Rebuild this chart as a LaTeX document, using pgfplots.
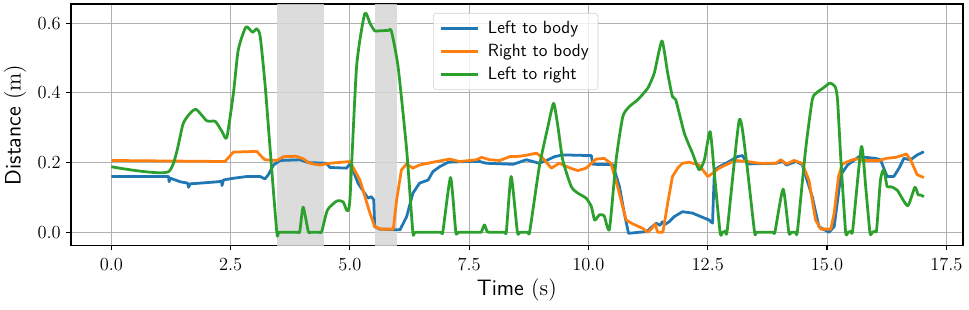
\documentclass[border=0pt]{standalone}
\usepackage{fontspec}
\usepackage{pgfplots}
\pgfplotsset{compat=1.18}
\definecolor{tabblue}{HTML}{1F77B4}
\definecolor{taborange}{HTML}{FF7F0E}
\definecolor{tabgreen}{HTML}{2CA02C}
\definecolor{gridgray}{HTML}{B0B0B0}
\definecolor{spangray}{HTML}{D6D6D6}
\begin{document}
\begin{tikzpicture}
\begin{axis}[
  scale only axis,
  width=580pt, height=157.1pt,
  xmin=-0.85, xmax=17.85,
  ymin=-0.0385, ymax=0.655,
  xtick={0,2.5,5,7.5,10,12.5,15,17.5},
  ytick={0,0.2,0.4,0.6},
  ticklabel style={font=\fontsize{12.5}{14}\selectfont},
  xticklabel style={/pgf/number format/fixed,/pgf/number format/fixed zerofill,/pgf/number format/precision=1,yshift=-2pt},
  yticklabel style={/pgf/number format/fixed,/pgf/number format/fixed zerofill,/pgf/number format/precision=1},
  tick align=outside,
  major tick length=3pt,
  tick style={black, line width=0.7pt},
  xtick pos=bottom, ytick pos=left,
  grid=major,
  grid style={gridgray, line width=0.6pt},
  axis line style={black, line width=1pt},
  xlabel={{\sffamily Time} (s)},
  ylabel={{\sffamily Distance} (m)},
  label style={font=\fontsize{14.5}{16}\selectfont},
  xlabel style={at={(axis description cs:0.5,-0.183)}, anchor=center},
  ylabel style={at={(axis description cs:-0.0625,0.5)}, anchor=center},
  legend style={at={(0.406,0.963)}, anchor=north west,
    font=\sffamily\fontsize{11.5}{13}\selectfont,
    draw=gray!35, rounded corners=2pt, fill=white, fill opacity=0.8, text opacity=1,
    row sep=1.5pt, inner xsep=4pt, inner ysep=3pt},
  legend cell align=left,
  legend image code/.code={\draw[#1] (0cm,0cm) -- (0.85cm,0cm); \path (0.85cm+3.5pt,0cm);},
]
\addplot[draw=none, fill=spangray, opacity=0.85, forget plot] coordinates {(3.47,-0.1) (4.46,-0.1) (4.46,0.8) (3.47,0.8)} -- cycle;
\addplot[draw=none, fill=spangray, opacity=0.85, forget plot] coordinates {(5.52,-0.1) (5.99,-0.1) (5.99,0.8) (5.52,0.8)} -- cycle;

\addplot[tabblue, line width=1.8pt, line join=round] table {
0.00 0.160
1.20 0.160
1.21 0.145
1.24 0.155
1.44 0.145
1.60 0.141
1.62 0.129
1.65 0.139
1.86 0.141
2.24 0.145
2.31 0.147
2.32 0.134
2.35 0.150
2.56 0.155
2.84 0.160
3.12 0.160
3.22 0.153
3.29 0.165
3.40 0.193
3.54 0.206
3.95 0.208
4.13 0.200
4.51 0.198
4.58 0.186
4.93 0.184
5.01 0.198
5.17 0.141
5.31 0.112
5.38 0.098
5.45 0.102
5.50 0.093
5.52 0.016
5.63 0.009
6.05 0.007
6.19 0.045
6.32 0.112
6.46 0.141
6.64 0.150
6.74 0.174
6.88 0.188
7.06 0.201
7.44 0.203
7.72 0.203
7.86 0.198
8.42 0.195
8.70 0.208
8.97 0.198
9.15 0.208
9.29 0.217
9.46 0.222
10.06 0.220
10.09 0.195
10.51 0.194
10.65 0.131
10.75 0.055
10.84 -0.003
11.22 0.002
11.42 0.026
11.50 0.020
11.55 0.030
11.60 0.022
11.69 0.030
11.80 0.045
11.97 0.059
12.18 0.055
12.53 0.035
12.60 0.026
12.64 0.179
12.74 0.188
12.95 0.203
13.12 0.217
13.23 0.220
13.33 0.196
13.93 0.198
14.07 0.203
14.15 0.193
14.35 0.203
14.48 0.194
14.69 0.102
14.83 0.016
15.04 0.000
15.15 0.016
15.29 0.165
15.43 0.193
15.67 0.217
16.02 0.212
16.12 0.208
16.26 0.160
16.40 0.160
16.51 0.184
16.61 0.212
16.75 0.208
16.89 0.222
17.03 0.231
};
\addlegendentry{Left to body}

\addplot[taborange, line width=1.8pt, line join=round] table {
0.00 0.206
2.38 0.203
2.56 0.230
3.05 0.232
3.15 0.217
3.22 0.208
3.47 0.206
3.61 0.217
3.88 0.218
4.02 0.211
4.16 0.198
4.37 0.193
4.58 0.198
5.00 0.203
5.21 0.150
5.42 0.055
5.52 0.016
5.66 0.009
5.91 0.009
5.98 0.093
6.08 0.179
6.19 0.196
6.32 0.184
6.46 0.193
6.74 0.201
7.09 0.210
7.30 0.203
7.65 0.208
7.76 0.215
7.93 0.208
8.14 0.206
8.35 0.217
8.56 0.218
8.73 0.222
8.91 0.227
9.05 0.212
9.22 0.184
9.39 0.198
9.62 0.184
9.78 0.177
9.95 0.184
10.16 0.210
10.33 0.212
10.47 0.198
10.61 0.131
10.79 0.035
10.93 0.024
11.14 0.011
11.24 0.000
11.33 0.011
11.40 0.024
11.45 0.000
11.56 0.000
11.66 0.083
11.76 0.160
11.87 0.184
11.97 0.198
12.11 0.201
12.32 0.193
12.50 0.160
12.60 0.169
12.74 0.184
12.95 0.198
13.09 0.206
13.33 0.203
13.58 0.198
13.93 0.198
14.03 0.208
14.15 0.196
14.31 0.206
14.48 0.198
14.62 0.150
14.76 0.035
14.87 0.009
15.08 0.009
15.15 0.055
15.24 0.160
15.32 0.196
15.53 0.208
15.67 0.211
15.74 0.206
16.10 0.206
16.24 0.212
16.44 0.215
16.61 0.222
16.66 0.225
16.75 0.208
16.89 0.165
17.03 0.157
};
\addlegendentry{Right to body}

\addplot[tabgreen, line width=1.8pt, line join=round, smooth, tension=0.35] table {
0.00 0.188
1.20 0.174
1.51 0.313
1.76 0.353
2.00 0.320
2.18 0.318
2.32 0.289
2.42 0.272
2.56 0.400
2.66 0.523
2.82 0.589
2.96 0.574
3.05 0.584
3.12 0.562
3.22 0.428
3.33 0.236
3.47 -0.002
3.52 0.000
3.90 0.000
3.95 0.002
4.02 0.072
4.13 0.001
4.18 0.000
4.36 0.000
4.41 0.002
4.53 0.064
4.73 0.090
4.86 0.087
4.94 0.062
5.00 0.093
5.14 0.475
5.31 0.627
5.42 0.600
5.52 0.578
5.62 0.578
5.80 0.579
5.87 0.577
6.01 0.475
6.19 0.236
6.32 0.001
6.38 0.000
6.90 0.000
6.95 0.003
7.11 0.157
7.22 0.001
7.28 0.000
7.72 0.000
7.76 0.002
7.82 0.021
7.88 0.001
7.93 0.000
8.24 0.000
8.28 0.003
8.38 0.160
8.51 0.001
8.56 0.000
8.73 0.000
8.77 0.003
8.97 0.188
9.15 0.303
9.27 0.370
9.36 0.303
9.46 0.208
9.64 0.131
9.78 0.112
9.95 0.098
10.06 0.074
10.13 0.035
10.23 0.050
10.33 0.047
10.44 0.009
10.58 0.208
10.72 0.332
10.86 0.361
11.03 0.380
11.24 0.413
11.38 0.457
11.54 0.549
11.66 0.457
11.76 0.389
11.83 0.380
12.01 0.284
12.18 0.227
12.32 0.179
12.43 0.208
12.55 0.289
12.64 0.167
12.76 -0.002
12.81 0.000
12.87 0.003
12.91 0.008
13.16 0.322
13.30 0.217
13.48 0.002
13.53 0.000
13.86 0.000
13.91 0.002
14.08 0.124
14.20 -0.001
14.25 0.000
14.34 0.000
14.38 0.003
14.55 0.236
14.69 0.380
14.78 0.400
14.94 0.416
15.06 0.428
15.17 0.418
15.22 0.380
15.29 0.208
15.39 0.001
15.44 0.000
15.50 0.003
15.54 0.008
15.72 0.246
15.81 0.131
15.90 -0.002
15.95 0.000
16.00 0.003
16.04 0.008
16.12 0.150
16.19 0.179
16.26 0.131
16.33 0.131
16.47 0.121
16.69 0.076
16.84 0.129
16.91 0.107
16.96 0.107
17.03 0.102
};
\addlegendentry{Left to right}
\end{axis}
\pgfresetboundingbox
\path ([xshift=-46pt,yshift=-41.8pt]current axis.south west) rectangle ([xshift=3.9pt,yshift=2.6pt]current axis.north east);
\end{tikzpicture}
\end{document}
